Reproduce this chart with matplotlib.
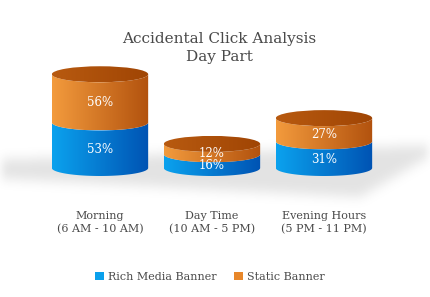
import matplotlib
matplotlib.use("Agg")
import matplotlib.pyplot as plt
import numpy as np
from matplotlib.patches import Polygon, Ellipse, Patch
from matplotlib.path import Path
from matplotlib.colors import to_rgb

categories = ["Morning\n(6 AM - 10 AM)", "Day Time\n(10 AM - 5 PM)", "Evening Hours\n(5 PM - 11 PM)"]
rich_media = [53, 16, 31]
static = [56, 12, 27]
series_names = ["Rich Media Banner", "Static Banner"]
title = "Accidental Click Analysis\nDay Part"

TEXT = "#4a4a4a"
SERIF = "DejaVu Serif"
# side gradients (left -> right) and flat colours for legend
side_colors = [("#0ba2ee", "#0053b3"), ("#f39b3d", "#b2520e")]
legend_colors = ["#0aa0ec", "#e8872a"]
top_colors = ("#b85a10", "#a04504")

W, H = 430, 297
fig = plt.figure(figsize=(W / 100, H / 100), dpi=100)
fig.patch.set_facecolor("white")

# soft floor shadow behind the cylinders
sh_ax = fig.add_axes([0, 0, 1, 1], zorder=0)
sh_ax.axis("off")
yy, xx = np.mgrid[0:H, 0:W] + 0.5
shadow = Path([(-10, 160), (440, 145), (440, 150), (360, 197), (-10, 178)])
inside = shadow.contains_points(np.c_[xx.ravel(), yy.ravel()]).reshape(H, W).astype(float)


def blur(a, r):
    k = np.ones(2 * r + 1) / (2 * r + 1)
    a = np.apply_along_axis(lambda m: np.convolve(m, k, mode="same"), 0, a)
    a = np.apply_along_axis(lambda m: np.convolve(m, k, mode="same"), 1, a)
    return a


inside = blur(blur(blur(inside, 5), 5), 5)
img = np.zeros((H, W, 4))
img[..., :3] = 0.55
img[..., 3] = 0.24 * inside
sh_ax.imshow(img, extent=(0, W, H, 0), interpolation="bilinear")
sh_ax.set_xlim(0, W)
sh_ax.set_ylim(H, 0)

ax = fig.add_axes([0, 0, 1, 1], zorder=1)
ax.patch.set_alpha(0)
ax.axis("off")

half_w = 0.43
ry = 9.3


def gradient(c1, c2, n=256):
    c1, c2 = np.array(to_rgb(c1)), np.array(to_rgb(c2))
    t = np.linspace(0, 1, n)[None, :, None]
    return c1 + (c2 - c1) * t


def lower_arc(cx, yc, reverse=False):
    th = np.linspace(np.pi, 2 * np.pi, 60)
    if reverse:
        th = th[::-1]
    return np.c_[cx + half_w * np.cos(th), yc + ry * np.sin(th)]


for i, (r, s) in enumerate(zip(rich_media, static)):
    bottom = 0
    for j, v in enumerate([r, s]):
        top = bottom + v
        pts = np.vstack([lower_arc(i, bottom), lower_arc(i, top, reverse=True)])
        poly = Polygon(pts, closed=True, fill=False, lw=0)
        ax.add_patch(poly)
        im = ax.imshow(gradient(*side_colors[j]), extent=(i - half_w, i + half_w, bottom - ry, top + ry),
                       aspect="auto", zorder=2 + j, interpolation="bilinear")
        im.set_clip_path(poly)
        ax.text(i, (bottom + top) / 2 - ry * 0.55, f"{v}%", color="white", fontsize=8.5,
                family=SERIF, ha="center", va="center", zorder=10)
        bottom = top
    ell = Ellipse((i, bottom), 2 * half_w, 2 * ry, fill=False, lw=0)
    ax.add_patch(ell)
    im = ax.imshow(gradient(*top_colors), extent=(i - half_w, i + half_w, bottom - ry, bottom + ry),
                   aspect="auto", zorder=5, interpolation="bilinear")
    im.set_clip_path(ell)
    ax.text(i, -64, categories[i], color=TEXT, fontsize=8, family=SERIF,
            ha="center", va="center", linespacing=1.35)

ax.set_xlim(-100 / 112, 330 / 112)
ax.set_ylim(-129 / 0.86, 168 / 0.86)

fig.text(219 / W, 1 - 48 / H, title, color=TEXT, fontsize=11, family=SERIF,
         ha="center", va="center", linespacing=1.3)

handles = [Patch(facecolor=c, edgecolor="none") for c in legend_colors]
leg = fig.legend(handles, series_names, loc="center", bbox_to_anchor=(210 / W, 1 - 277 / H), ncol=2,
                 frameon=False, handlelength=0.8, handleheight=0.8, handletextpad=0.35,
                 columnspacing=1.6, prop={"family": SERIF, "size": 8})
for t in leg.get_texts():
    t.set_color(TEXT)

fig.savefig("out.png", dpi=100, facecolor="white")
